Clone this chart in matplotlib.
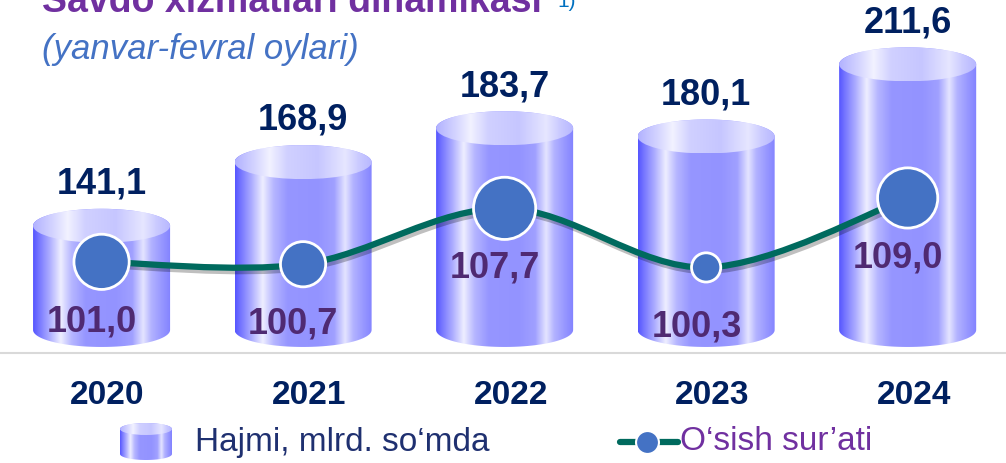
import numpy as np
import matplotlib
matplotlib.use('Agg')
import matplotlib.pyplot as plt
import matplotlib.patheffects as pe
from matplotlib.colors import LinearSegmentedColormap
from matplotlib.patches import Polygon, Ellipse, PathPatch
from matplotlib.path import Path

plt.rcParams['font.family'] = ['Liberation Sans', 'DejaVu Sans']

# data
years = ['2020', '2021', '2022', '2023', '2024']
volume = [141.1, 168.9, 183.7, 180.1, 211.6]   # Hajmi, mlrd. so'mda
growth = [101.0, 100.7, 107.7, 100.3, 109.0]   # O'sish sur'ati, %

# styles
marker_px = [58, 48, 65, 32, 63]
navy = '#002060'
purple = '#7030a0'
dark_purple = '#4f2a72'
teal = '#006a5e'
dot = '#4472c4'

W, H = 1006, 463
fig = plt.figure(figsize=(W / 100, H / 100), dpi=100)
ax = fig.add_axes([0, 0, 1, 1])
XLIM = (-0.504, 4.488)
YLIM = (37.5, 239.7)
base = 95.6            # cylinder floor on the volume scale
cyl_w = 0.68
ell_h = 34 * (YLIM[1] - YLIM[0]) / H

body_cmap = LinearSegmentedColormap.from_list('body', [
    (0.0, '#5656ff'), (0.05, '#7c7cff'), (0.12, '#adadff'), (0.2, '#eeeeff'),
    (0.28, '#b6b6ff'), (0.38, '#9696ff'), (0.6, '#9393ff'), (0.72, '#a0a0ff'),
    (0.8, '#e4e4ff'), (0.86, '#b2b2ff'), (0.93, '#9999ff'), (1.0, '#8282ff')])
top_cmap = LinearSegmentedColormap.from_list('top', [
    (0.0, '#b2b2ff'), (0.15, '#d6d6ff'), (0.25, '#f2f2ff'), (0.38, '#d0d0ff'),
    (0.6, '#c6c6ff'), (0.8, '#e6e6ff'), (0.9, '#cacaff'), (1.0, '#b6b6ff')])
grad = np.linspace(0, 1, 256).reshape(1, -1)


def cylinder(a, xc, y0, y1, w, eh, z=2):
    t = np.linspace(0, np.pi, 60)
    bottom = np.column_stack([xc - w / 2 * np.cos(t), y0 - eh / 2 * np.sin(t)])
    top = np.column_stack([xc + w / 2 * np.cos(t), y1 + eh / 2 * np.sin(t)])
    outline = Polygon(np.vstack([bottom, top]), closed=True,
                      facecolor='none', edgecolor='none')
    a.add_patch(outline)
    im = a.imshow(grad, cmap=body_cmap, aspect='auto', interpolation='bilinear',
                  extent=(xc - w / 2, xc + w / 2, y0 - eh / 2, y1 + eh / 2), zorder=z)
    im.set_clip_path(outline)
    cap = Ellipse((xc, y1), w, eh, facecolor='none', edgecolor='none')
    a.add_patch(cap)
    im2 = a.imshow(grad, cmap=top_cmap, aspect='auto', interpolation='bilinear',
                   extent=(xc - w / 2, xc + w / 2, y1 - eh / 2, y1 + eh / 2), zorder=z + 0.1)
    im2.set_clip_path(cap)


xs = np.arange(len(years))
for x, v in zip(xs, volume):
    cylinder(ax, x, base, v, cyl_w, ell_h)
    ax.annotate(f'{v:.1f}'.replace('.', ','), (x, v), xytext=(0, 30),
                textcoords='offset points', ha='center', va='center',
                fontsize=26, fontweight='bold', color=navy, zorder=5)

ax.axhline(base - 10, color='#d9d9d9', lw=1.5, zorder=1)
for x, y in zip(xs, years):
    ax.text(x + 0.03, 1 - 395 / H, y, transform=ax.get_xaxis_transform(),
            ha='center', va='center', fontsize=24, fontweight='bold', color=navy)
ax.set_xlim(*XLIM)
ax.set_ylim(*YLIM)
ax.axis('off')

# growth line on its own scale
ax2 = ax.twinx()
pts = np.column_stack([xs, growth]).astype(float)
verts, codes = [pts[0]], [Path.MOVETO]
for i in range(len(pts) - 1):
    p0 = pts[max(i - 1, 0)]
    p3 = pts[min(i + 2, len(pts) - 1)]
    verts += [pts[i] + (pts[i + 1] - p0) / 6, pts[i + 1] - (p3 - pts[i]) / 6, pts[i + 1]]
    codes += [Path.CURVE4] * 3
curve = PathPatch(Path(verts, codes), fill=False, edgecolor=teal, lw=4.5,
                  capstyle='round', zorder=3,
                  path_effects=[pe.SimpleLineShadow(offset=(1.5, -2.5), alpha=0.25),
                                pe.Normal()])
ax2.add_patch(curve)
ax2.scatter(xs, growth, s=[(d * 0.72 - 2) ** 2 for d in marker_px], c=dot,
            edgecolors='white', linewidths=2, zorder=4)
for x, g in zip(xs, growth):
    ax2.annotate(f'{g:.1f}'.replace('.', ','), (x, g), xytext=(-7, -43),
                 textcoords='offset points', ha='center', va='center',
                 fontsize=26, fontweight='bold', color=dark_purple, zorder=6)
ax2.set_xlim(*XLIM)
ax2.set_ylim(75.8, 133.8)
ax2.axis('off')

# titles and legend in pixel space
ov = fig.add_axes([0, 0, 1, 1], zorder=10)
ov.set_xlim(0, W)
ov.set_ylim(0, H)
ov.axis('off')
ov.patch.set_visible(False)
ov.text(42, H - 12, 'Savdo xizmatlari dinamikasi', fontsize=27, fontweight='bold',
        color=purple, va='baseline')
ov.text(557, H - 7, '1)', fontsize=15, color='#0070c0', va='baseline')
ov.text(42, H - 49, '(yanvar-fevral oylari)', fontsize=25, style='italic',
        color=dot, va='center')

cylinder(ov, 146, 9, 34, 52, 12)
ov.text(195, H - 442, 'Hajmi, mlrd. so‘mda', fontsize=24, color='#1f3070', va='center')
ov.plot([620, 678], [21, 21], color=teal, lw=4.5, solid_capstyle='round')
ov.scatter([647], [21], s=(25 * 0.72 - 1.5) ** 2, c=dot, edgecolors='white',
           linewidths=1.5, zorder=5)
ov.text(680, H - 442, 'O‘sish sur’ati', fontsize=24, color=purple, va='center')
ov.set_xlim(0, W)
ov.set_ylim(0, H)

fig.savefig('out.png', dpi=100)
